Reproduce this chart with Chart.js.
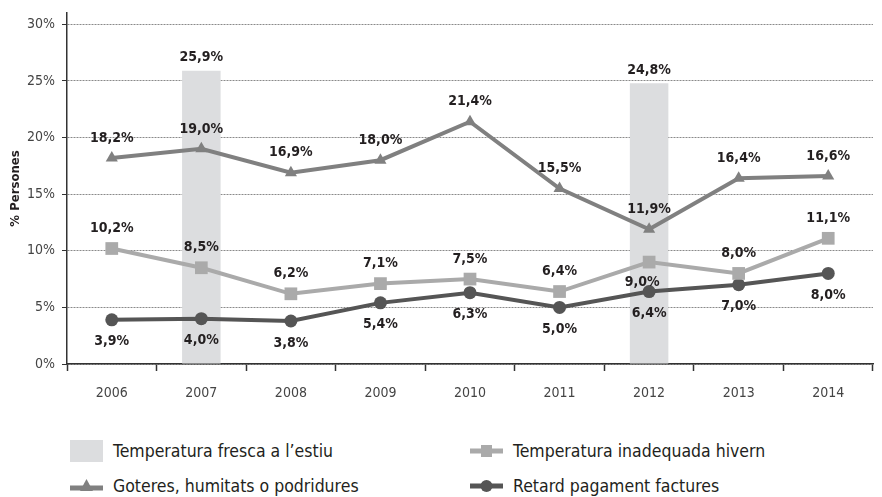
<!DOCTYPE html>
<html>
<head>
<meta charset="utf-8">
<script src="https://cdn.jsdelivr.net/npm/chart.js@4.4.1/dist/chart.umd.min.js"></script>
<style>
  body { margin: 0; background: #fff; }
  #wrap { position: relative; width: 882px; height: 497px; overflow: hidden; }
  #chart { position: absolute; left: 0; top: 0; }
  .key {
    position: absolute; display: flex; align-items: center; height: 24px;
    font-family: 'Liberation Sans Narrow', 'DejaVu Sans Condensed', 'Roboto Condensed', sans-serif;
    font-size: 17.5px; color: #231f20; white-space: nowrap;
  }
  .key svg { margin-right: 10px; }
</style>
</head>
<body>
<div id="wrap">
  <canvas id="chart" width="882" height="420"></canvas>

  <div class="key" style="left:70px; top:439px;">
    <svg width="33" height="22"><rect x="0" y="0" width="33" height="22" fill="#dcdddf"/></svg>
    Temperatura fresca a l’estiu
  </div>
  <div class="key" style="left:470px; top:439px;">
    <svg width="33" height="22"><line x1="0" y1="11" x2="33" y2="11" stroke="#aaaaaa" stroke-width="5"/><rect x="11" y="5" width="11" height="12" fill="#aaaaaa"/></svg>
    Temperatura inadequada hivern
  </div>
  <div class="key" style="left:70px; top:474px;">
    <svg width="33" height="22"><line x1="0" y1="13" x2="33" y2="13" stroke="#808080" stroke-width="5"/><polygon points="16.5,4 23,16 10,16" fill="#808080"/></svg>
    Goteres, humitats o podridures
  </div>
  <div class="key" style="left:470px; top:474px;">
    <svg width="33" height="22"><line x1="0" y1="11" x2="33" y2="11" stroke="#555555" stroke-width="5"/><circle cx="16.5" cy="11" r="6" fill="#555555"/></svg>
    Retard pagament factures
  </div>
</div>

<script>
// --- Data (percent of persons) ---
const years = ['2006', '2007', '2008', '2009', '2010', '2011', '2012', '2013', '2014'];
const frescaEstiu = [null, 25.9, null, null, null, null, 24.8, null, null];
const goteres = [18.2, 19.0, 16.9, 18.0, 21.4, 15.5, 11.9, 16.4, 16.6];
const inadequadaHivern = [10.2, 8.5, 6.2, 7.1, 7.5, 6.4, 9.0, 8.0, 11.1];
const retardFactures = [3.9, 4.0, 3.8, 5.4, 6.3, 5.0, 6.4, 7.0, 8.0];
const yTicks = [0, 5, 10, 15, 20, 25, 30];

const FONT = "'Liberation Sans Narrow', 'DejaVu Sans Condensed', 'Roboto Condensed', sans-serif";
const INK = '#231f20';

const fmt = v => v.toFixed(1).replace('.', ',') + '%';

// value labels drawn next to each mark
const valueLabels = {
    id: 'valueLabels',
    afterDatasetsDraw(chart) {
        const ctx = chart.ctx;
        ctx.save();
        ctx.font = `bold 14px ${FONT}`;
        ctx.fillStyle = INK;
        ctx.textAlign = 'center';
        ctx.textBaseline = 'middle';
        chart.data.datasets.forEach((ds, i) => {
            const meta = chart.getDatasetMeta(i);
            meta.data.forEach((el, j) => {
                const v = ds.data[j];
                if (v == null) return;
                let dy = ds.labelDy;
                let dx = 0;
                // winter temperature 2012 sits between two lines, put it underneath
                if (ds.label === 'Temperatura inadequada hivern' && years[j] === '2012') {
                    dy = 20; dx = -7;
                }
                ctx.fillText(fmt(v), el.x + dx, el.y + dy);
            });
        });
        ctx.restore();
    }
};

new Chart(document.getElementById('chart'), {
    type: 'bar',
    data: {
        labels: years,
        datasets: [{
            type: 'line',
            label: 'Goteres, humitats o podridures',
            data: goteres,
            borderColor: '#808080',
            backgroundColor: '#808080',
            borderWidth: 4,
            pointStyle: 'triangle',
            pointRadius: 7,
            pointBorderWidth: 0,
            labelDy: -20,
            order: 1
        }, {
            type: 'line',
            label: 'Temperatura inadequada hivern',
            data: inadequadaHivern,
            borderColor: '#aaaaaa',
            backgroundColor: '#aaaaaa',
            borderWidth: 4,
            pointStyle: 'rect',
            pointRadius: 9,
            pointBorderWidth: 0,
            labelDy: -20,
            order: 2
        }, {
            type: 'line',
            label: 'Retard pagament factures',
            data: retardFactures,
            borderColor: '#555555',
            backgroundColor: '#555555',
            borderWidth: 4,
            pointStyle: 'circle',
            pointRadius: 6.5,
            pointBorderWidth: 0,
            labelDy: 22,
            order: 3
        }, {
            label: 'Temperatura fresca a l’estiu',
            data: frescaEstiu,
            backgroundColor: '#dcdddf',
            barPercentage: 0.43,
            categoryPercentage: 1,
            labelDy: -13,
            order: 10
        }]
    },
    options: {
        responsive: false,
        animation: false,
        devicePixelRatio: 1,
        layout: { padding: { top: 13, right: 9, left: 0, bottom: 0 } },
        plugins: {
            legend: { display: false },
            tooltip: { enabled: false }
        },
        scales: {
            x: {
                offset: true,
                grid: { offset: true, drawOnChartArea: false, drawTicks: true, tickLength: 7, tickColor: '#333', tickWidth: 1.5 },
                border: { color: '#333', width: 1.5 },
                ticks: { color: '#444', font: { family: FONT, size: 14 }, padding: 14 },
                afterFit: s => { s.height = 56; s.paddingLeft = 0; s.paddingRight = 0; }
            },
            y: {
                min: 0,
                max: 31,
                afterBuildTicks: s => { s.ticks = yTicks.map(v => ({ value: v })); },
                grid: { color: '#8a8a8a', lineWidth: 1, tickLength: 5, tickColor: '#333', tickBorderDash: [] },
                border: { color: '#333', width: 1.5, dash: [2, 1] },
                ticks: { color: '#444', font: { family: FONT, size: 14 }, padding: 7, callback: v => v + '%' },
                title: { display: true, text: '% Persones', color: INK, font: { family: FONT, size: 13, weight: 'bold' }, padding: { top: 8, bottom: 0 } },
                afterFit: s => { s.width = 67; s.paddingTop = 0; s.paddingBottom = 0; }
            }
        }
    },
    plugins: [valueLabels]
});
</script>
</body>
</html>
